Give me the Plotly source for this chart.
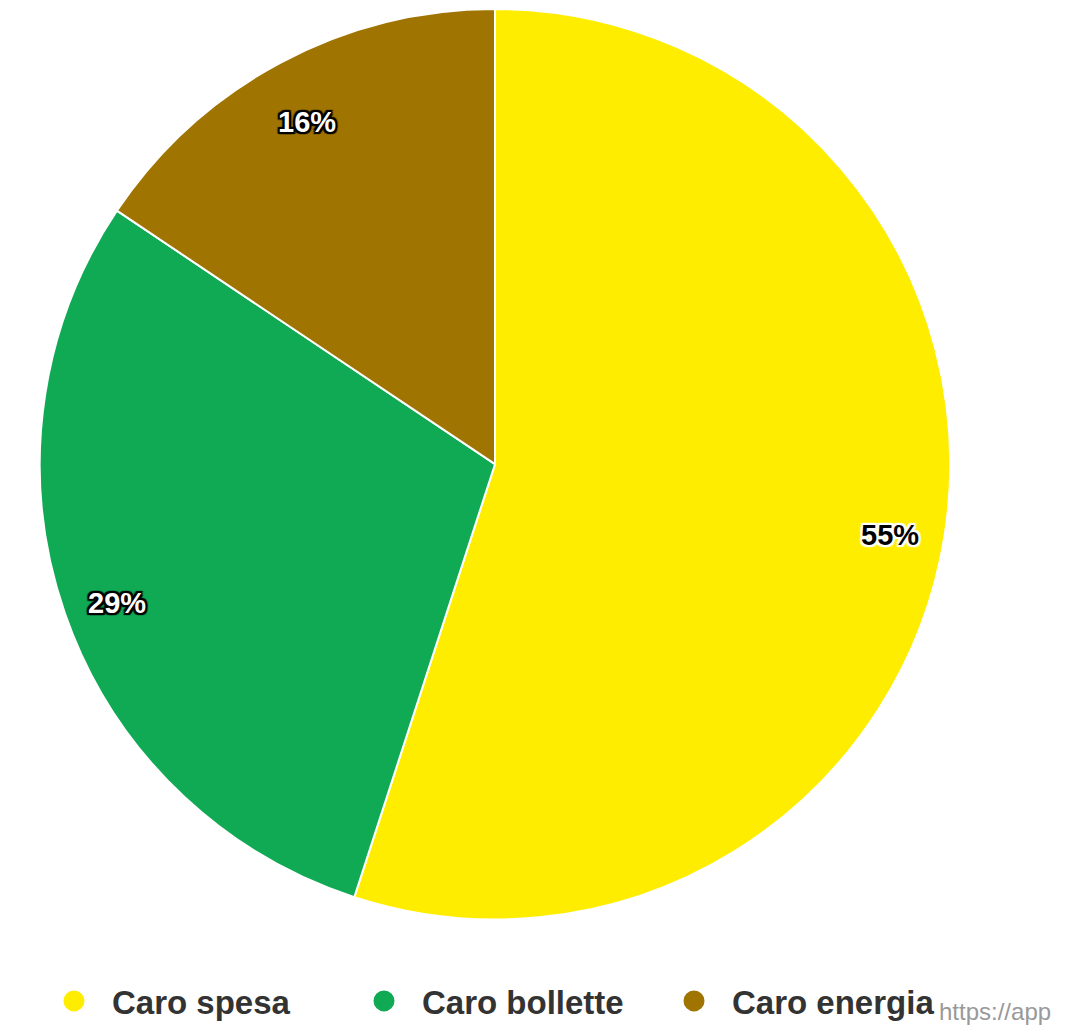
import math
import plotly.graph_objects as go

labels = ["Caro spesa", "Caro bollette", "Caro energia"]
values = [55, 29.4, 15.6]
colors = ["#FFED00", "#10AA55", "#A07400"]
label_text_colors = ["#000000", "#FFFFFF", "#FFFFFF"]
label_outline_colors = ["#FFFFFF", "#000000", "#000000"]

W, H = 1085, 1029
CX, CY, R = 495, 466, 457  # pie centre / radius in px

fig = go.Figure()
fig.add_trace(go.Pie(
    labels=labels, values=values, sort=False, direction="clockwise", rotation=0,
    marker=dict(colors=colors, line=dict(color="#FFFFFF", width=2)),
    textinfo="none", showlegend=False, hoverinfo="label+percent",
    domain=dict(x=[(CX - R) / W, (CX + R) / W], y=[1 - (CY + R) / H, 1 - (CY - R) / H]),
))

# legend entries with circular symbols
for lab, col in zip(labels, colors):
    fig.add_trace(go.Scatter(
        x=[None], y=[None], mode="markers", name=lab,
        marker=dict(symbol="circle", size=16, color=col, line=dict(color=col, width=5)),
        showlegend=True,
    ))

# percentage data labels placed at mid-angle of each slice
total = sum(values)
annotations = []
cum = 0.0
for v, tc, oc in zip(values, label_text_colors, label_outline_colors):
    mid = (cum + v / 2) / total * 2 * math.pi
    cum += v
    rr = 0.875 * R
    px = CX + rr * math.sin(mid)
    py = CY - rr * math.cos(mid) + 9
    sh = ", ".join(f"{dx}px {dy}px 1px {oc}" for dx in (-2, 0, 2) for dy in (-2, 0, 2) if dx or dy)
    annotations.append(dict(
        x=px / W, y=1 - py / H, xref="paper", yref="paper", showarrow=False,
        text=f"{round(v / total * 100)}%",
        font=dict(family="Liberation Sans, Arial, sans-serif", size=29, color=tc, weight="bold", shadow=sh),
        xanchor="center", yanchor="middle",
    ))

annotations.append(dict(
    x=937 / W, y=1 - 1015 / H, xref="paper", yref="paper", showarrow=False,
    text="https://app", xanchor="left", yanchor="middle",
    font=dict(family="Liberation Sans, Arial, sans-serif", size=24, color="#999999"),
))

fig.update_layout(
    width=W, height=H, margin=dict(l=0, r=0, t=0, b=0),
    paper_bgcolor="#FFFFFF", plot_bgcolor="#FFFFFF",
    xaxis=dict(visible=False), yaxis=dict(visible=False),
    annotations=annotations,
    legend=dict(
        orientation="h", x=36 / W, y=1 - 1005 / H, xanchor="left", yanchor="middle",
        font=dict(family="Liberation Sans, Arial, sans-serif", size=33, color="#333333", weight="bold"),
        itemwidth=66, entrywidth=229, entrywidthmode="pixels",
        bgcolor="rgba(0,0,0,0)",
    ),
)

fig.write_html("out.html")
